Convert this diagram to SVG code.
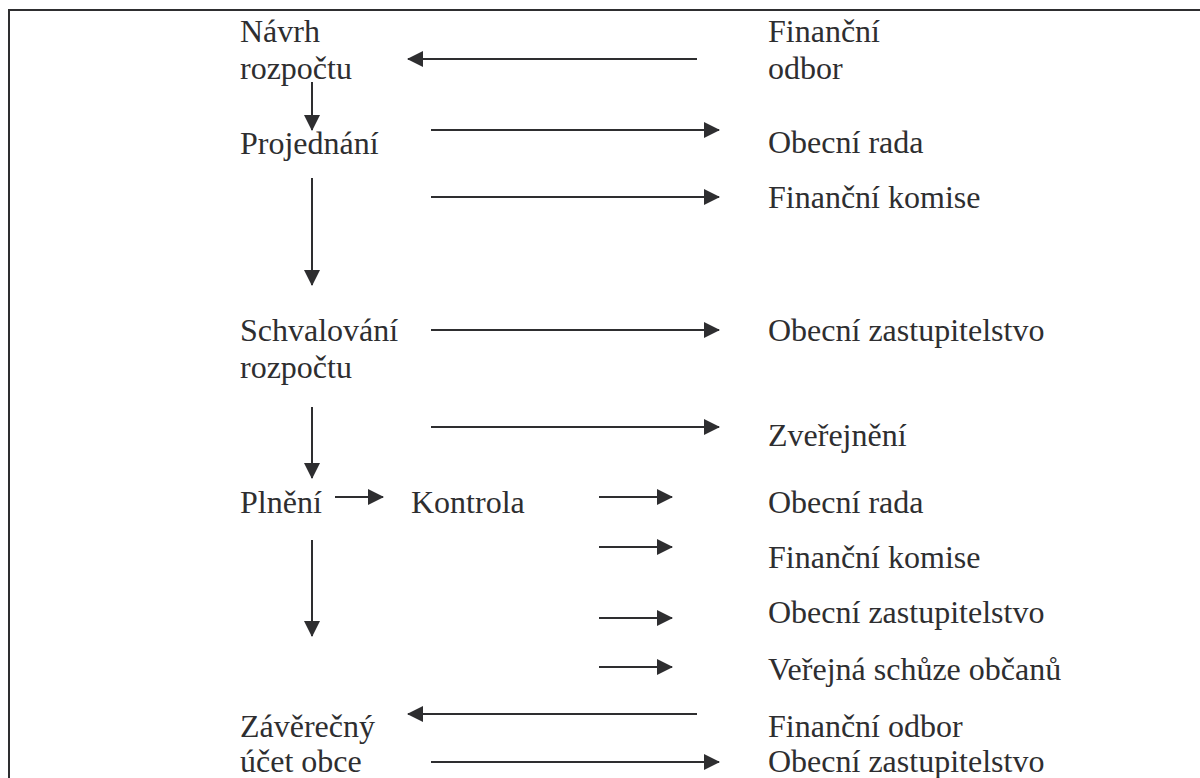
<svg xmlns="http://www.w3.org/2000/svg" width="1200" height="778" viewBox="0 0 1200 778">
<style>
text{font-family:'Liberation Serif','Times New Roman',serif;font-size:32px;fill:#2e2e30}
.c line{stroke:#2e2e30;stroke-width:2}
</style>
<defs>
<marker id="ah" viewBox="0 0 16 16" refX="15" refY="8" markerWidth="16" markerHeight="16" markerUnits="userSpaceOnUse" orient="auto">
<path d="M0,0 L16,8 L0,16 Z" fill="#2e2e30"/>
</marker>
</defs>
<rect width="1200" height="778" fill="#fff"/>
<g id="frame"><line x1="9" y1="10" x2="1200" y2="10" stroke="#2e2e30" stroke-width="2"/><line x1="9" y1="9" x2="9" y2="778" stroke="#2e2e30" stroke-width="2"/></g>
<g id="n-navrh"><text x="240" y="42">Návrh</text><text x="240" y="79">rozpočtu</text></g>
<g id="n-fo1"><text x="768" y="42">Finanční</text><text x="768" y="79">odbor</text></g>
<g id="n-projednani"><text x="240" y="154">Projednání</text></g>
<g id="n-or1"><text x="768" y="153">Obecní rada</text></g>
<g id="n-fk1"><text x="768" y="208">Finanční komise</text></g>
<g id="n-schval"><text x="240" y="341">Schvalování</text><text x="240" y="378">rozpočtu</text></g>
<g id="n-oz1"><text x="768" y="341">Obecní zastupitelstvo</text></g>
<g id="n-zverej"><text x="768" y="446">Zveřejnění</text></g>
<g id="n-plneni"><text x="240" y="513">Plnění</text></g>
<g id="n-kontrola"><text x="411" y="513">Kontrola</text></g>
<g id="n-or2"><text x="768" y="513">Obecní rada</text></g>
<g id="n-fk2"><text x="768" y="568">Finanční komise</text></g>
<g id="n-oz2"><text x="768" y="623">Obecní zastupitelstvo</text></g>
<g id="n-vso"><text x="768" y="680">Veřejná schůze občanů</text></g>
<g id="n-zaver"><text x="240" y="737">Závěrečný</text><text x="240" y="772">účet obce</text></g>
<g id="n-fo2"><text x="768" y="737">Finanční odbor</text></g>
<g id="n-oz3"><text x="768" y="772">Obecní zastupitelstvo</text></g>
<g id="connectors" class="c">
<line x1="697" y1="59" x2="408" y2="59" marker-end="url(#ah)"/>
<line x1="431" y1="130" x2="719" y2="130" marker-end="url(#ah)"/>
<line x1="431" y1="197" x2="719" y2="197" marker-end="url(#ah)"/>
<line x1="312" y1="82" x2="312" y2="130" marker-end="url(#ah)"/>
<line x1="312" y1="178" x2="312" y2="285" marker-end="url(#ah)"/>
<line x1="431" y1="330" x2="719" y2="330" marker-end="url(#ah)"/>
<line x1="312" y1="407" x2="312" y2="478" marker-end="url(#ah)"/>
<line x1="431" y1="427" x2="719" y2="427" marker-end="url(#ah)"/>
<line x1="335" y1="497" x2="383" y2="497" marker-end="url(#ah)"/>
<line x1="312" y1="540" x2="312" y2="636" marker-end="url(#ah)"/>
<line x1="599" y1="497" x2="672" y2="497" marker-end="url(#ah)"/>
<line x1="599" y1="547" x2="672" y2="547" marker-end="url(#ah)"/>
<line x1="599" y1="618" x2="672" y2="618" marker-end="url(#ah)"/>
<line x1="599" y1="667" x2="672" y2="667" marker-end="url(#ah)"/>
<line x1="697" y1="714" x2="408" y2="714" marker-end="url(#ah)"/>
<line x1="431" y1="762" x2="719" y2="762" marker-end="url(#ah)"/>
</g>
</svg>
